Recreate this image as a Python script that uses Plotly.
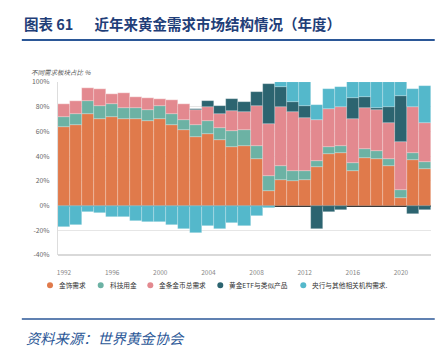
import plotly.graph_objects as go

years = list(range(1992, 2023))
jewelry = [63.5, 65.1, 73.8, 70.3, 71.9, 70.3, 70.3, 68.4, 70.3, 65.4, 61.0, 55.5, 58.2, 52.8, 47.0, 48.6,
           37.3, 11.9, 20.3, 19.5, 20.8, 31.1, 41.4, 42.4, 27.8, 38.6, 37.8, 31.9, 6.0, 36.5, 29.7]
technology = [8.1, 8.7, 10.8, 10.2, 10.0, 8.9, 8.9, 9.2, 10.2, 8.4, 8.6, 9.8, 10.6, 10.0, 13.2, 12.2,
              10.8, 12.4, 12.1, 8.1, 7.0, 4.8, 6.4, 6.2, 6.8, 7.3, 6.3, 5.9, 6.7, 6.2, 5.2]
bar_coin = [10.8, 10.8, 10.3, 13.8, 8.6, 12.2, 8.9, 9.4, 6.0, 11.3, 12.4, 11.9, 11.3, 11.7, 16.4, 14.9,
            32.2, 41.4, 47.3, 48.1, 43.3, 33.0, 30.3, 31.1, 35.1, 33.0, 33.6, 29.1, 38.8, 37.0, 32.1]
etf = [0, 0, 0, 0, 0, 0, 0, 0, 0, 0, 0, 0.9, 4.5, 6.3, 9.4, 8.1,
       11.6, 32.3, 16.3, 8.2, 9.5, -18.9, -4.9, -3.8, 17.5, 8.7, 1.5, 12.9, 37.5, -6.5, -3.2]
central_bank = [-17.5, -15.4, -4.9, -5.9, -9.2, -9.2, -12.3, -13.2, -13.2, -15.5, -18.6, -22.2, -16.5, -19.3, -14.2, -16.8,
                -8.6, -2.0, 4.0, 16.1, 19.4, 12.8, 16.6, 16.3, 12.8, 12.4, 20.8, 20.2, 11.0, 14.3, 29.6]
year_ticks = list(range(1992, 2021, 4))
pct_ticks = list(range(-40, 101, 20))

names = ["金饰需求", "科技用金", "金条金币总需求", "黄金ETF与类似产品", "央行与其他相关机构需求."]
colors = ["#E07A4B", "#6CB2A4", "#E3898F", "#2C6470", "#54B8CB"]
series = [jewelry, technology, bar_coin, etf, central_bank]

fig = go.Figure()
for name, col, vals in zip(names, colors, series):
    fig.add_trace(go.Bar(x=years, y=vals, name=name,
                         marker=dict(color=col, line=dict(color="rgba(255,255,255,0.35)", width=0.6)),
                         showlegend=False))

# manual legend (dots + labels), positions in paper coordinates
legend_dot_x = [-0.0214, 0.1145, 0.2475, 0.4351, 0.6576]
legend_txt_x = [-0.0019, 0.1332, 0.2662, 0.4539, 0.6756]
legend_y = -0.175
shapes = [
    dict(type="line", xref="paper", yref="paper", x0=0, x1=1, y0=0, y1=0, line=dict(color="#CCCCCC", width=1.5)),
    dict(type="line", xref="paper", yref="paper", x0=-0.097, x1=1.01, y0=1.243, y1=1.243, line=dict(color="#2B5797", width=2)),
    dict(type="line", xref="paper", yref="paper", x0=-0.097, x1=1.01, y0=-0.37, y1=-0.37, line=dict(color="#2B5797", width=1.5)),
]
annotations = [
    dict(text="<b>图表 61　  近年来黄金需求市场结构情况（年度）</b>", xref="paper", yref="paper", x=-0.097, y=1.34,
         xanchor="left", yanchor="middle", showarrow=False, font=dict(size=14.5, color="#1F3E78")),
    dict(text="<i>不同需求板块占比 %</i>", xref="paper", yref="paper", x=-0.078, y=1.058,
         xanchor="left", yanchor="middle", showarrow=False, font=dict(size=6.5, color="#555")),
    dict(text="<i>资料来源：世界黄金协会</i>", xref="paper", yref="paper", x=-0.09, y=-0.475,
         xanchor="left", yanchor="middle", showarrow=False, font=dict(size=14.3, color="#2B5797")),
]
for name, col, dx, tx in zip(names, colors, legend_dot_x, legend_txt_x):
    shapes.append(dict(type="circle", xref="paper", yref="paper", xsizemode="pixel", ysizemode="pixel",
                       xanchor=dx, yanchor=legend_y, x0=-3, x1=3, y0=-3, y1=3,
                       fillcolor=col, line=dict(width=0)))
    annotations.append(dict(text=name, xref="paper", yref="paper", x=tx, y=legend_y,
                            xanchor="left", yanchor="middle", showarrow=False,
                            font=dict(size=6.7, color="#333")))

fig.update_layout(
    width=448, height=352,
    margin=dict(l=58, r=17, t=82, b=97),
    barmode="relative", bargap=0,
    paper_bgcolor="white", plot_bgcolor="white",
    font=dict(family="Noto Sans CJK SC, sans-serif", color="#555"),
    showlegend=False,
    xaxis=dict(range=[1991.5, 2022.5], tickvals=year_ticks, showgrid=False,
               ticks="", tickfont=dict(size=6.5, color="#888"), showline=False, zeroline=False,
               ticklabelstandoff=12),
    yaxis=dict(range=[-40, 100], tickvals=pct_ticks,
               ticktext=[f"{v}%" for v in pct_ticks],
               tickfont=dict(size=6.8, color="#666"), gridcolor="#E6E6E6", gridwidth=1,
               zeroline=True, zerolinecolor="#333", zerolinewidth=1.5,
               showline=True, linecolor="#DDDDDD", linewidth=1, ticks="", ticklabelstandoff=6),
    shapes=shapes,
    annotations=annotations,
)
fig.write_html("out.html")
